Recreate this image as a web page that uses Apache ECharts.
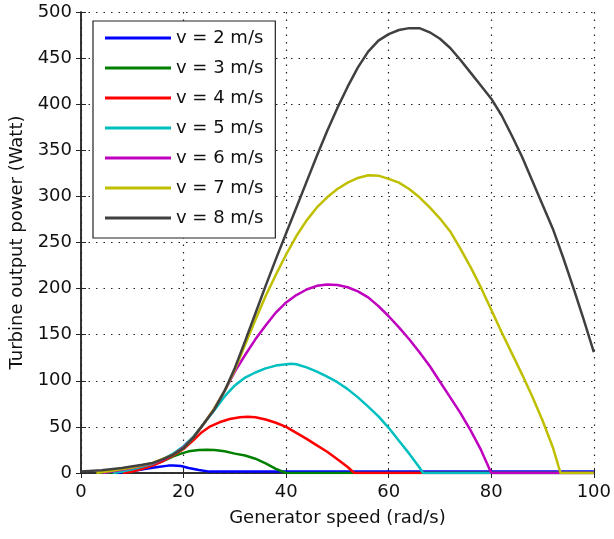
<!DOCTYPE html>
<html>
<head>
<meta charset="utf-8">
<title>Turbine output power</title>
<script src="https://cdn.jsdelivr.net/npm/echarts@6/dist/echarts.min.js"></script>
<style>
  html, body { margin: 0; padding: 0; background: #fff; }
  #chart { width: 614px; height: 539px; }
</style>
</head>
<body>
<div id="chart"></div>
<script>
// wind speeds (m/s)
var speeds = [2, 3, 4, 5, 6, 7, 8];

// generator speed (rad/s) and power (W)
var w2 = [7, 9, 11, 13, 15, 17, 18, 19.5, 21, 23, 25, 100];
var p2 = [0, 1.5, 3, 4.8, 6.5, 8, 8.2, 7.5, 5.5, 3.3, 1.5, 1.5];

var w3 = [5, 8, 10, 12, 14, 16, 18, 19.5, 21, 23, 24.5, 26, 28, 30, 32, 34, 36, 38, 40, 100];
var p3 = [0, 1.5, 3.5, 6, 9, 13, 18, 21, 23.5, 25, 25.3, 25, 23.5, 21, 19, 15.5, 10.5, 4.5, 0, 0];

var w4 = [8.2, 10, 12, 14, 16, 18, 20, 22, 23.5, 25, 27, 29, 31, 32.5, 34, 36, 38, 40, 42, 44, 46, 48, 50, 52, 53.3, 100];
var p4 = [0, 1.5, 4.5, 8, 13, 19, 26, 36, 44, 50, 55, 58.5, 60.5, 61, 60.5, 58, 54.5, 50, 43.5, 37, 30, 23, 15, 6.5, 0, 0];

var w5 = [6.2, 8, 10, 12, 14, 16, 18, 20, 22, 24, 26, 28, 30, 32, 34, 36, 38, 40, 41, 42, 44, 46, 48, 50, 52, 54, 56, 58, 60, 62, 64, 66, 66.7, 100];
var p5 = [0, 1.5, 4, 7, 10, 15, 21, 29, 40, 54, 68, 83, 95, 103.5, 109, 113.5, 116.5, 118, 118.5, 118, 114.5, 110, 104.5, 98.5, 91, 82, 72, 61.5, 49, 35, 21, 6, 0, 0];

var w6 = [4.3, 6, 8, 10, 12, 14, 16, 18, 20, 22, 24, 26, 28, 30, 32, 34, 36, 38, 40, 42, 44, 46, 48, 50, 52, 54, 56, 58, 60, 62, 64, 66, 68, 70, 72, 74, 76, 78, 80, 100];
var p6 = [0, 1.5, 3.5, 5.5, 8, 10.5, 14.5, 20, 28, 39, 54, 70, 89, 110, 128, 145, 160, 174, 185, 193, 199, 203, 204.5, 204, 201.5, 197, 190.5, 181, 170, 158, 145, 131, 116, 99, 82, 65, 46, 25, 0, 0];

var w7 = [3, 6, 10, 14, 18, 20, 22, 24, 26, 28, 30, 32, 34, 36, 38, 40, 42, 44, 46, 48, 50, 52, 54, 56, 58, 60, 62, 64, 66, 68, 70, 72, 74, 76, 78, 80, 82, 84, 86, 88, 90, 92, 93.5, 100];
var p7 = [0, 2.5, 6, 11, 20, 27, 39, 54, 70, 89, 112, 139, 166, 192, 215, 237, 257, 274, 288, 299, 308, 315, 320, 323, 322.5, 319, 315, 308, 299, 288, 276, 262, 243, 223, 201, 177, 153, 130, 107, 83, 57, 28, 0, 0];

var w8 = [0, 4, 8, 12, 14, 16, 18, 20, 22, 24, 26, 28, 30, 32, 34, 36, 38, 40, 42, 44, 46, 48, 50, 52, 54, 56, 58, 60, 62, 64, 66, 68, 70, 72, 74, 76, 78, 80, 82, 84, 86, 88, 90, 92, 94, 96, 98, 100];
var p8 = [1.5, 3, 5.5, 9, 11, 15, 20, 27, 39, 54, 69, 89, 114, 143, 173, 203, 232, 260, 288, 316, 344, 371, 396, 419, 440, 457, 469, 476, 480.5, 482.5, 482.5, 478, 471, 461, 448, 434, 420, 406, 388, 366, 343, 317, 291, 265, 234, 201, 167, 131];

var omegas = [w2, w3, w4, w5, w6, w7, w8];
var powers = [p2, p3, p4, p5, p6, p7, p8];

var colors = ['#0000ff', '#008000', '#ff0000', '#00bfbf', '#bf00bf', '#bfbf00', '#404040'];
var font = 'DejaVu Sans';

var chart = echarts.init(document.getElementById('chart'), null, {renderer: 'canvas'});

var series = speeds.map(function (v, k) {
  return {
    name: 'v = ' + v + ' m/s',
    type: 'line',
    symbol: 'none',
    xAxisIndex: 0,
    yAxisIndex: 0,
    lineStyle: {color: colors[k], width: 2.5},
    itemStyle: {color: colors[k]},
    data: omegas[k].map(function (w, i) { return [w, powers[k][i]]; })
  };
});

var axisColor = '#262626';
var gridDots = {color: '#222', width: 1.2, type: [1.5, 6]};

chart.setOption({
  animation: false,
  backgroundColor: '#fff',
  color: colors,
  grid: {left: 81, right: 19, top: 12, bottom: 66},
  legend: {
    orient: 'vertical',
    left: 93,
    top: 21,
    padding: [8, 12, 11, 12],
    icon: 'rect',
    itemWidth: 66,
    itemHeight: 3,
    itemGap: 12,
    borderColor: '#222',
    borderWidth: 1.2,
    backgroundColor: '#fff',
    textStyle: {fontFamily: font, fontSize: 18, color: '#111'},
    data: series.map(function (s) { return s.name; })
  },
  xAxis: [{
    type: 'value', min: 0, max: 100, interval: 20,
    name: 'Generator speed (rad/s)',
    nameLocation: 'middle',
    nameGap: 36,
    nameTextStyle: {fontFamily: font, fontSize: 18, color: '#111'},
    axisLine: {lineStyle: {color: axisColor, width: 1.5}},
    axisTick: {inside: true, length: 5, lineStyle: {color: axisColor}},
    axisLabel: {fontFamily: font, fontSize: 18, color: '#111', margin: 10},
    splitLine: {show: true, lineStyle: gridDots}
  }, {
    type: 'value', min: 0, max: 100, interval: 20, position: 'top',
    axisLine: {show: true, lineStyle: {color: axisColor, width: 1.5}},
    axisTick: {show: true, inside: true, length: 5, lineStyle: {color: axisColor}},
    axisLabel: {show: false},
    splitLine: {show: false}
  }],
  yAxis: [{
    type: 'value', min: 0, max: 500, interval: 50,
    name: 'Turbine output power (Watt)',
    nameLocation: 'middle',
    nameGap: 52,
    nameTextStyle: {fontFamily: font, fontSize: 18, color: '#111'},
    axisLine: {show: true, lineStyle: {color: axisColor, width: 1.5}},
    axisTick: {show: true, inside: true, length: 5, lineStyle: {color: axisColor}},
    axisLabel: {fontFamily: font, fontSize: 18, color: '#111', margin: 9},
    splitLine: {show: true, lineStyle: gridDots}
  }, {
    type: 'value', min: 0, max: 500, interval: 50, position: 'right',
    axisLine: {show: true, lineStyle: {color: axisColor, width: 1.5}},
    axisTick: {show: true, inside: true, length: 5, lineStyle: {color: axisColor}},
    axisLabel: {show: false},
    splitLine: {show: false}
  }],
  series: series
});
</script>
</body>
</html>
